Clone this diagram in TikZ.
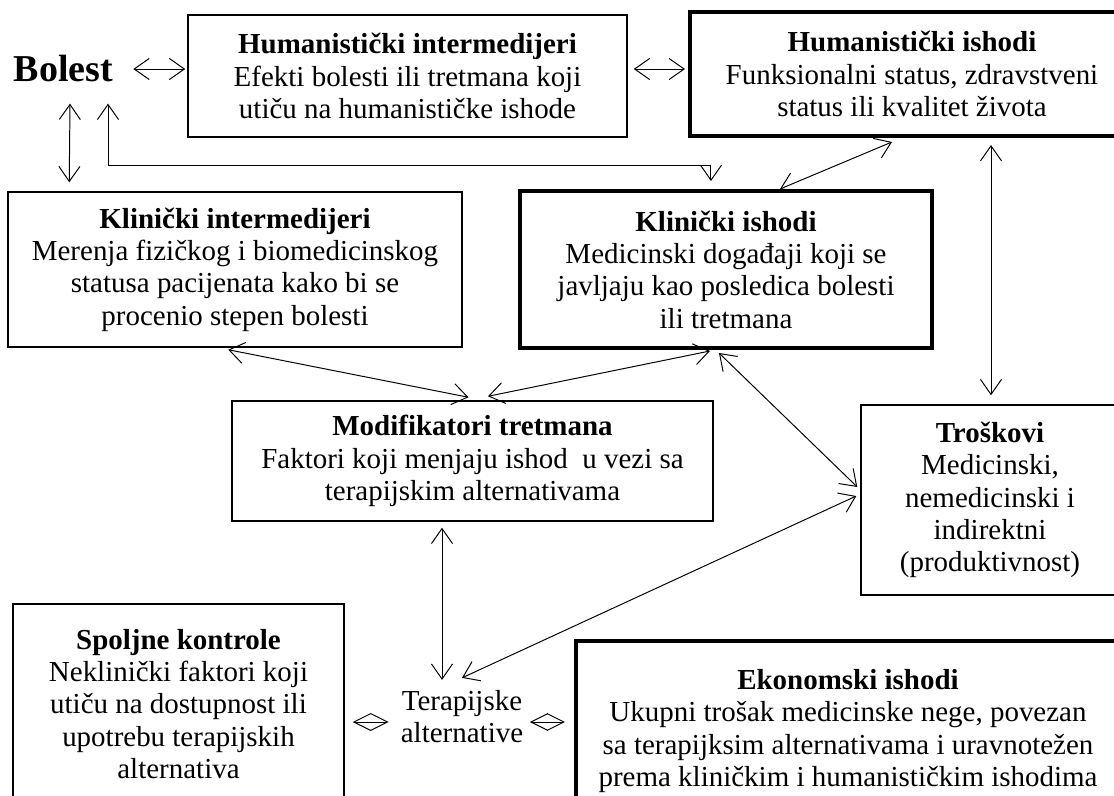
\documentclass[tikz,border=0pt]{standalone}
\usepackage{fontspec}
\setmainfont{Liberation Serif}
\usetikzlibrary{calc}
\usetikzlibrary{arrows.meta}

\tikzset{
  box/.style={draw,line width=1pt,align=center,inner sep=0pt,
    font=\fontsize{20.6}{23}\selectfont},
  thickbox/.style={box,line width=2.8pt},
  dbl/.style={{Straight Barb[length=10.7pt,width=15pt]}-{Straight Barb[length=10.7pt,width=15pt]},line width=0.7pt},
  diam/.style={{Straight Barb[length=12pt,width=12pt]}-{Straight Barb[length=12pt,width=12pt]},line width=0.7pt}
}

\begin{document}
\begin{tikzpicture}[x=0.025cm,y=-0.025cm]
    \useasboundingbox (0,0) rectangle (1114,796);
    \clip (0,0) rectangle (1114,796);
    % boxes
    \node[inner sep=0pt,font=\bfseries\fontsize{27}{30}\selectfont] (bolest) at (63.5,69) {Bolest};
    \node[box,minimum width=10.975cm,minimum height=3.05cm] (hint) at (407.5,76)
        {\textbf{Humanistički intermedijeri}\\Efekti bolesti ili tretmana koji\\utiču na humanističke ishode};
    \node[thickbox,minimum width=11.1cm,minimum height=3.1cm] (hish) at (912,74)
        {\textbf{Humanistički ishodi}\\Funksionalni status, zdravstveni\\status ili kvalitet života};
    \node[box,minimum width=11.35cm,minimum height=3.875cm] (kint) at (235,269.5)
        {\textbf{Klinički intermedijeri}\\Merenja fizičkog i biomedicinskog\\statusa pacijenata kako bi se\\procenio stepen bolesti};
    \node[thickbox,minimum width=10.3cm,minimum height=3.925cm] (kish) at (726,269.5)
        {\textbf{Klinički ishodi}\\Medicinski događaji koji se\\javljaju kao posledica bolesti\\ili tretmana};
    \node[box,minimum width=12.025cm,minimum height=3cm] (mod) at (472.5,461)
        {\textbf{Modifikatori tretmana}\\Faktori koji menjaju ishod~ u vezi sa\\terapijskim alternativama};
    \node[box,minimum width=6.45cm,minimum height=4.75cm] (tros) at (990,500)
        {\textbf{Troškovi}\\Medicinski,\\nemedicinski i\\indirektni\\(produktivnost)};
    \node[box,minimum width=8.275cm,minimum height=5cm] (spolj) at (178.5,704)
        {\textbf{Spoljne kontrole}\\Neklinički faktori koji\\utiču na dostupnost ili\\upotrebu terapijskih\\alternativa};
    \node[inner sep=0pt,align=center,font=\fontsize{20.6}{23}\selectfont] (terap) at (462,716.5)
        {Terapijske\\alternative};
    \node[thickbox,minimum width=13.6cm,minimum height=4.5cm] (ekon) at (848,731)
        {\textbf{Ekonomski ishodi}\\Ukupni trošak medicinske nege, povezan\\sa terapijksim alternativama i uravnotežen\\prema kliničkim i humanističkim ishodima};
    % veze
    \draw[dbl] ($(bolest.east)+(20,0)$) -- ($(hint.west)+(-2,-7)$);
    \draw[dbl] ($(bolest.south)+(6.5,21)$) -- ($(kint.north west)+(62,-9)$);
    \draw[dbl] ($(bolest.south)+(44.5,21)$) |- ($(kish.north west)+(193,-24)$) -- ($(kish.north west)+(193,-8)$);
    \draw[dbl] ($(hint.east)+(6,-7)$) -- ($(hish.west)+(-3,-5)$);
    \draw[dbl] ($(kish.north west)+(262,0)$) -- ($(hish.south west)+(204,4)$);
    \draw[dbl] ($(tros.north |- hish.south)+(1,7)$) -- ($(tros.north)+(1,-9)$);
    \draw[dbl] ($(kint.south west)+(221,2)$) -- ($(mod.north)+(-4,-3)$);
    \draw[dbl] ($(kish.south west)+(192,1)$) -- ($(mod.north)+(15.5,-4)$);
    \draw[dbl] ($(kish.south west)+(201,3)$) -- ($(tros.west)+(-3,-13)$);
    \draw[dbl] ($(terap.north)+(0,-12)$) -- ($(tros.west)+(-4,-4)$);
    \draw[dbl] ($(mod.south)+(-30.5,6)$) -- ($(terap.north)+(-20,-10)$);
    \draw[diam] ($(spolj.east |- terap.west)+(8,5.5)$) -- ($(terap.west)+(-12,5.5)$);
    \draw[diam] ($(terap.east)+(6.5,5.5)$) -- ($(ekon.west |- terap.east)+(-9,5.5)$);
\end{tikzpicture}
\end{document}
